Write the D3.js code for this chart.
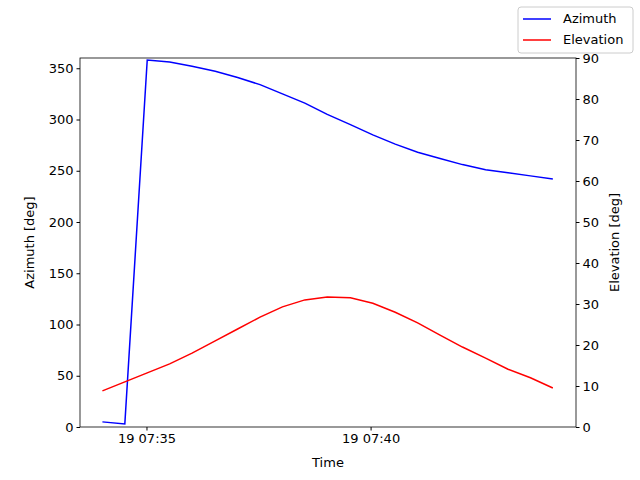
<!DOCTYPE html>
<html><head><meta charset="utf-8">
<script src="https://cdn.jsdelivr.net/npm/d3@7"></script>
<style>body{margin:0;background:#fff}text{font-family:"DejaVu Sans",sans-serif;font-size:13px}</style>
</head><body><svg id="c" width="640" height="480"></svg>
<script>
"use strict"
// seconds after 07:34:00
const seconds = [1,31,61,91,121,152,182,212,242,272,302,333,363,393,423,453,483,514,544,574,604]
const azimuth = [5,3,358,356,352,347,341,334,325,316,305,295,285,276,268,262,256,251,248,245,242]
const elevation = [8.8,11,13.2,15.4,18,21,23.9,26.8,29.3,31,31.7,31.5,30.2,28,25.4,22.4,19.5,16.8,14.1,12,9.5]
const times = seconds.map(s => new Date(2024, 0, 19, 7, 34, s))

const svg = d3.select("#c")
const m = {l: 80, r: 576, t: 58, b: 427}
const x = d3.scaleTime()
  .domain([new Date(2024,0,19,7,33,31.6), new Date(2024,0,19,7,44,35.9)])
  .range([m.l, m.r])
const yL = d3.scaleLinear().domain([0, 360]).range([m.b, m.t])
const yR = d3.scaleLinear().domain([0, 90]).range([m.b, m.t])

const fmt = d3.timeFormat("%d %H:%M")
svg.append("g").attr("transform", `translate(0,${m.b})`)
  .call(d3.axisBottom(x).tickValues([new Date(2024,0,19,7,35), new Date(2024,0,19,7,40)]).tickFormat(fmt).tickSizeOuter(0).tickSize(3.5))
svg.append("g").attr("transform", `translate(${m.l},0)`)
  .call(d3.axisLeft(yL).tickValues(d3.range(0, 351, 50)).tickSizeOuter(0).tickSize(3.5))
svg.append("g").attr("transform", `translate(${m.r},0)`)
  .call(d3.axisRight(yR).tickValues(d3.range(0, 91, 10)).tickSizeOuter(0).tickSize(3.5))
svg.selectAll(".tick text").attr("fill", "#000").style("font-size", "13px")
svg.selectAll(".domain").remove()
svg.append("rect").attr("x", m.l).attr("y", m.t).attr("width", m.r - m.l).attr("height", m.b - m.t)
  .attr("fill", "none").attr("stroke", "#000").attr("stroke-width", 0.8)

svg.append("path").datum(times.map((t, i) => [t, azimuth[i]]))
  .attr("fill", "none").attr("stroke", "blue").attr("stroke-width", 1.5)
  .attr("d", d3.line().x(d => x(d[0])).y(d => yL(d[1])))
svg.append("path").datum(times.map((t, i) => [t, elevation[i]]))
  .attr("fill", "none").attr("stroke", "red").attr("stroke-width", 1.5)
  .attr("d", d3.line().x(d => x(d[0])).y(d => yR(d[1])))

svg.append("text").attr("x", (m.l + m.r) / 2).attr("y", 467).attr("text-anchor", "middle").text("Time")
svg.append("text").attr("transform", `translate(34,${(m.t + m.b) / 2}) rotate(-90)`).attr("text-anchor", "middle").text("Azimuth [deg]")
svg.append("text").attr("transform", `translate(619,${(m.t + m.b) / 2}) rotate(-90)`).attr("text-anchor", "middle").text("Elevation [deg]")

const lg = svg.append("g").attr("transform", "translate(518,7)")
lg.append("rect").attr("width", 115).attr("height", 46).attr("rx", 3).attr("fill", "#fff").attr("stroke", "#ccc")
;[["Azimuth", "blue"], ["Elevation", "red"]].forEach(([n, c], i) => {
  lg.append("line").attr("x1", 5).attr("x2", 33).attr("y1", 12 + i * 21).attr("y2", 12 + i * 21).attr("stroke", c).attr("stroke-width", 1.5)
  lg.append("text").attr("x", 45).attr("y", 16 + i * 21).text(n)
})
</script></body></html>
